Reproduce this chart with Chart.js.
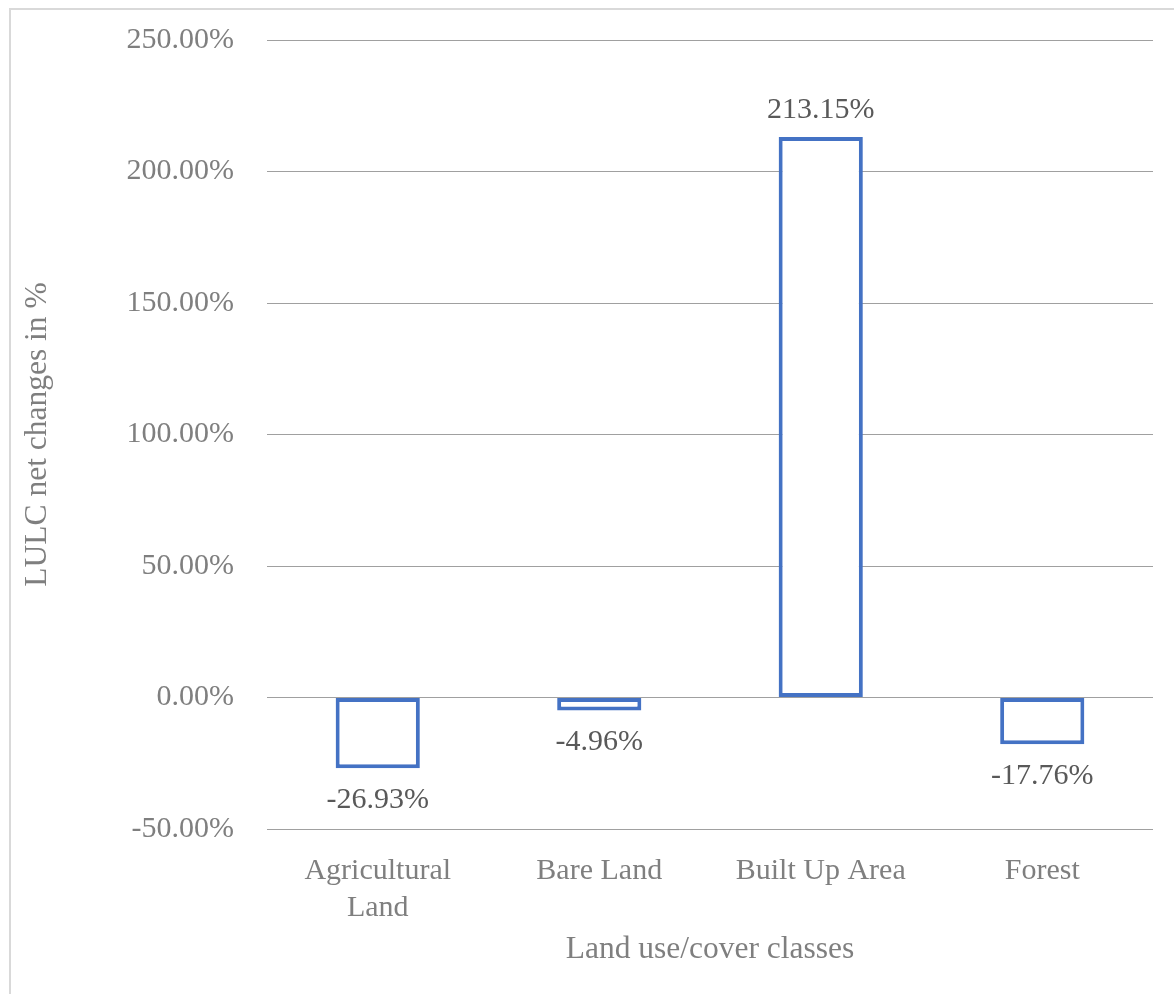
<!DOCTYPE html>
<html>
<head>
<meta charset="utf-8">
<script src="https://cdn.jsdelivr.net/npm/chart.js@4"></script>
<style>
  body { margin: 0; background: #fff; }
  #wrap { position: relative; width: 1174px; height: 994px; overflow: hidden; }
  #frame { position: absolute; left: 9px; top: 8px; width: 1200px; height: 1000px; border: 2px solid #d9d9d9; box-sizing: border-box; }
  #chart { position: absolute; left: 0; top: 0; }
</style>
</head>
<body>
<div id="wrap">
  <div id="frame"></div>
  <canvas id="chart" width="1174" height="994"></canvas>
</div>
<script>
// Land use / cover classes and their net change (%)
const categories = [['Agricultural', 'Land'], 'Bare Land', 'Built Up Area', 'Forest'];
const netChange = [-26.93, -4.96, 213.15, -17.76];
const yTicks = [-50, 0, 50, 100, 150, 200, 250];

const serif = "'Liberation Serif', 'Times New Roman', serif";

// draws the value labels above / below each bar
const valueLabels = {
  id: 'valueLabels',
  afterDatasetsDraw(chart) {
    const ctx = chart.ctx;
    const meta = chart.getDatasetMeta(0);
    ctx.save();
    ctx.font = '30px ' + serif;
    ctx.fillStyle = '#595959';
    ctx.textAlign = 'center';
    ctx.textBaseline = 'middle';
    meta.data.forEach((bar, i) => {
      const v = netChange[i];
      const y = v >= 0 ? bar.y - 27 : bar.y + 32;
      ctx.fillText(v.toFixed(2) + '%', bar.x, y);
    });
    ctx.restore();
  }
};

new Chart(document.getElementById('chart'), {
  type: 'bar',
  data: {
    labels: categories,
    datasets: [{
      data: netChange,
      backgroundColor: '#ffffff',
      borderColor: '#4472C4',
      borderWidth: 4,
      borderSkipped: false,
      barPercentage: 0.38,
      categoryPercentage: 1
    }]
  },
  options: {
    responsive: false,
    animation: false,
    devicePixelRatio: 1,
    layout: { padding: { left: 10, right: 21, top: 40, bottom: 0 } },
    plugins: { legend: { display: false }, tooltip: { enabled: false } },
    scales: {
      x: {
        grid: { display: false },
        border: { display: false },
        ticks: { color: '#7f7f7f', font: { family: serif, size: 30, lineHeight: 1.233 }, padding: 16, maxRotation: 0, autoSkip: false },
        title: { display: true, text: 'Land use/cover classes', color: '#7f7f7f', font: { family: serif, size: 31.5 }, padding: { top: 0, bottom: 25 } },
        afterFit(scale) { scale.height = 165; }
      },
      y: {
        min: -50,
        max: 250,
        afterBuildTicks(scale) { scale.ticks = yTicks.map(v => ({ value: v })); },
        grid: { color: '#a0a0a0', lineWidth: 1, drawTicks: false },
        border: { display: false },
        ticks: {
          color: '#7f7f7f',
          font: { family: serif, size: 30 },
          padding: 33,
          callback: v => v.toFixed(2) + '%'
        },
        title: { display: true, text: 'LULC net changes in %', color: '#7f7f7f', font: { family: serif, size: 31.5 }, padding: { top: 9, bottom: 0 } },
        afterFit(scale) {
          scale.width = 257;
          scale.paddingTop = 0;
          scale.paddingBottom = 0;
        }
      }
    }
  },
  plugins: [valueLabels]
});
</script>
</body>
</html>
